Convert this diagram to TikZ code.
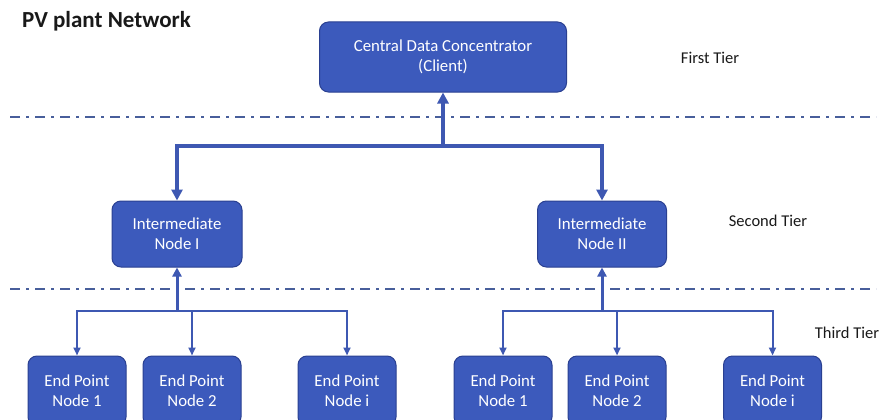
\documentclass[tikz,border=0pt]{standalone}
\usepackage{fontspec}
\setmainfont{Carlito}
\usetikzlibrary{arrows.meta}
\definecolor{boxfill}{RGB}{60,90,188}
\definecolor{boxborder}{RGB}{42,64,145}
\definecolor{linkcol}{RGB}{62,88,178}
\definecolor{dashcol}{RGB}{72,94,155}
\definecolor{txtcol}{RGB}{25,25,25}
\tikzset{
  nodebox/.style={draw=boxborder, line width=1pt, fill=boxfill, rounded corners=9pt,
    text=white, font=\fontsize{16.8}{20}\selectfont, align=center, inner sep=0pt},
  endbox/.style={nodebox, minimum width=98pt, minimum height=70pt},
  midbox/.style={nodebox, minimum width=130pt, minimum height=66pt},
  tierline/.style={draw=dashcol, line width=2pt, dash pattern=on 10pt off 6pt on 3pt off 6pt},
  biglink/.style={draw=linkcol, line width=3.2pt, -{Triangle[length=11pt,width=11pt]}},
  midlink/.style={draw=linkcol, line width=3pt, -{Triangle[length=9pt,width=9pt]}},
  smalllink/.style={draw=linkcol, line width=2pt, -{Triangle[length=8pt,width=7pt]}},
  tierlabel/.style={text=txtcol, font=\fontsize{16.5}{19}\selectfont, inner sep=0pt},
}
\begin{document}
\begin{tikzpicture}[x=1pt,y=-1pt]
\useasboundingbox (0,0) rectangle (883,420);
\clip (0,0) rectangle (883,420);
\fill[white] (0,0) rectangle (883,420);

% tier separators
\coordinate (d1a) at (10,117);
\coordinate (d1b) at (876,117);
\coordinate (d2a) at (10,289);
\coordinate (d2b) at (876,289);
\draw[tierline] (d1a) -- (d1b);
\draw[tierline] (d2a) -- (d2b);

% title and tier labels
\node[anchor=west, text=txtcol, font=\fontsize{23}{27}\selectfont\bfseries, inner sep=0pt] (title) at (22,21) {PV plant Network};
\node[tierlabel] (t1) at (710,58) {First Tier};
\node[tierlabel] (t2) at (768,221) {Second Tier};
\node[tierlabel] (t3) at (847,333) {Third Tier};

% nodes
\node[nodebox, minimum width=247pt, minimum height=70pt] (cen) at (443,57) {Central Data Concentrator\\(Client)};
\node[midbox] (i1) at (177,234) {Intermediate\\Node I};
\node[midbox, minimum width=129pt] (i2) at (602,234) {Intermediate\\Node II};

\node[endbox] (a1) at (77,391) {End Point\\Node 1};
\node[endbox] (a2) at (192,391) {End Point\\Node 2};
\node[endbox] (a3) at (347,391) {End Point\\Node i};
\node[endbox] (b1) at (503,391) {End Point\\Node 1};
\node[endbox] (b2) at (617,391) {End Point\\Node 2};
\node[endbox] (b3) at (772.5,391) {End Point\\Node i};

% junctions
\coordinate (j0) at (443,146);
\coordinate (ja) at (177,311);
\coordinate (jb) at (602,311);

% connectors
\draw[biglink] (j0) -- (cen.south);
\draw[biglink] (j0) -| (i1.north);
\draw[biglink] (j0) -| (i2.north);

\draw[midlink] (ja) -- (i1.south);
\draw[smalllink] (ja) -| (a1.north);
\draw[smalllink] (ja) -| (a2.north);
\draw[smalllink] (ja) -| (a3.north);

\draw[midlink] (jb) -- (i2.south);
\draw[smalllink] (jb) -| (b1.north);
\draw[smalllink] (jb) -| (b2.north);
\draw[smalllink] (jb) -| (b3.north);
\end{tikzpicture}
\end{document}
